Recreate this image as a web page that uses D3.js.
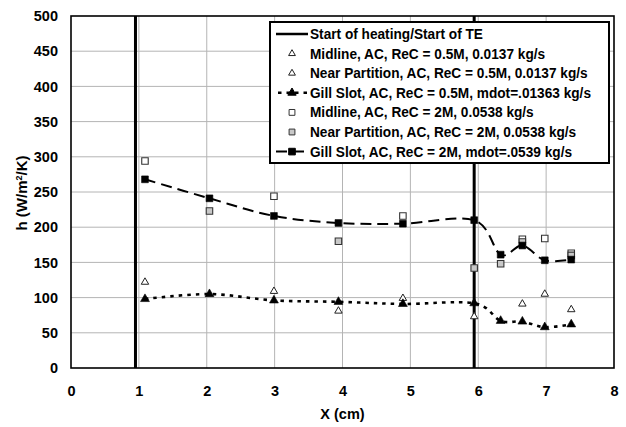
<!DOCTYPE html>
<html>
<head>
<meta charset="utf-8">
<script src="https://cdn.jsdelivr.net/npm/d3@7"></script>
<style>
  html, body { margin: 0; padding: 0; background: #fff; }
  svg { display: block; }
  text { font-family: "Liberation Sans", Arial, sans-serif; font-weight: bold; fill: #000; }
</style>
</head>
<body>
<svg id="chart" width="626" height="427"></svg>
<script>
// Axis positions (cm) of the measurement stations
const xGill = [1.09, 2.04, 2.99, 3.94, 4.89, 5.94, 6.33, 6.65, 6.98, 7.37];
const xMid = [1.09, 2.99, 4.89, 6.65, 6.98, 7.37];
const xNear05 = [3.94, 5.94];
const xNear2M = [2.04, 3.94, 5.94, 6.33, 6.65, 7.37];

// Heat transfer coefficient h (W/m^2/K)
const gill05 = [98, 105, 96, 94, 91, 92, 67, 66, 58, 62];
const mid05 = [122, 109, 99, 91, 105, 83];
const near05 = [81, 73];
const gill2M = [268, 241, 216, 206, 205, 210, 161, 174, 153, 154];
const mid2M = [294, 244, 216, 183, 184, 163];
const near2M = [223, 180, 142, 148, 179, 160];

// Start of heating / start of trailing edge
const heatingLines = [0.95, 5.94];

const xTicks = [0, 1, 2, 3, 4, 5, 6, 7, 8];
const yTicks = [0, 50, 100, 150, 200, 250, 300, 350, 400, 450, 500];

const legendLabels = [
  "Start of heating/Start of TE",
  "Midline, AC, ReC = 0.5M, 0.0137 kg/s",
  "Near Partition, AC, ReC = 0.5M, 0.0137 kg/s",
  "Gill Slot, AC, ReC = 0.5M, mdot=.01363 kg/s",
  "Midline, AC, ReC = 2M, 0.0538 kg/s",
  "Near Partition, AC, ReC = 2M, 0.0538 kg/s",
  "Gill Slot, AC, ReC = 2M, mdot=.0539 kg/s"
];

const svg = d3.select("#chart");
const plot = { left: 71, top: 16, right: 614, bottom: 368 };

const x = d3.scaleLinear().domain([0, 8]).range([plot.left, plot.right]);
const y = d3.scaleLinear().domain([0, 500]).range([plot.bottom, plot.top]);

// gridlines
const grid = svg.append("g");
grid.selectAll("line.h").data(yTicks.slice(1, -1)).join("line")
  .attr("x1", plot.left).attr("x2", plot.right)
  .attr("y1", d => y(d)).attr("y2", d => y(d))
  .attr("stroke", "#b4b4b4").attr("stroke-width", 1);
grid.selectAll("line.v").data(xTicks.slice(1, -1)).join("line")
  .attr("y1", plot.top).attr("y2", plot.bottom)
  .attr("x1", d => x(d)).attr("x2", d => x(d))
  .attr("stroke", "#b4b4b4").attr("stroke-width", 1);

// axes (labels only; frame drawn below)
const xAxis = svg.append("g").attr("transform", `translate(0,${plot.bottom})`)
  .call(d3.axisBottom(x).tickValues(xTicks).tickFormat(d3.format("d")).tickSize(0).tickPadding(18));
const yAxis = svg.append("g").attr("transform", `translate(${plot.left},0)`)
  .call(d3.axisLeft(y).tickValues(yTicks).tickFormat(d3.format("d")).tickSize(0).tickPadding(13));
[xAxis, yAxis].forEach(a => {
  a.select(".domain").remove();
  a.selectAll("text").style("font-size", "14.5px").style("font-weight", "bold")
    .style("font-family", "'Liberation Sans', Arial, sans-serif");
});

// frame
svg.append("rect")
  .attr("x", plot.left).attr("y", plot.top)
  .attr("width", plot.right - plot.left).attr("height", plot.bottom - plot.top)
  .attr("fill", "none").attr("stroke", "#000").attr("stroke-width", 1.6);

// heating start lines
svg.selectAll("line.heat").data(heatingLines).join("line")
  .attr("x1", d => x(d)).attr("x2", d => x(d))
  .attr("y1", plot.top).attr("y2", plot.bottom)
  .attr("stroke", "#000").attr("stroke-width", 3);

const curve = d3.curveCatmullRom.alpha(0);
const line = d3.line().x(d => x(d[0])).y(d => y(d[1])).curve(curve);
const zip = (xs, ys) => xs.map((v, i) => [v, ys[i]]);

const sym = (type, size) => d3.symbol().type(type).size(size);

function markers(data, type, size, fill, stroke, sw) {
  svg.append("g").selectAll("path").data(data).join("path")
    .attr("transform", d => `translate(${x(d[0])},${y(d[1])})`)
    .attr("d", sym(type, size))
    .attr("fill", fill).attr("stroke", stroke).attr("stroke-width", sw);
}

// series lines
svg.append("path").datum(zip(xGill, gill05)).attr("d", line)
  .attr("fill", "none").attr("stroke", "#000").attr("stroke-width", 2.6)
  .attr("stroke-dasharray", "3.5,5");
svg.append("path").datum(zip(xGill, gill2M)).attr("d", line)
  .attr("fill", "none").attr("stroke", "#000").attr("stroke-width", 2)
  .attr("stroke-dasharray", "11,6");

// open markers
markers(zip(xMid, mid05), d3.symbolTriangle, 24, "#fff", "#222", 1);
markers(zip(xNear05, near05), d3.symbolTriangle, 24, "#fff", "#222", 1);
markers(zip(xMid, mid2M), d3.symbolSquare, 42, "#fff", "#333", 1.1);
markers(zip(xNear2M, near2M), d3.symbolSquare, 42, "#c8c8c8", "#333", 1.1);

// filled markers
markers(zip(xGill, gill05), d3.symbolTriangle, 34, "#000", "#000", 0.6);
markers(zip(xGill, gill2M), d3.symbolSquare, 46, "#000", "#000", 0.6);

// axis titles
svg.append("text").attr("x", x(4)).attr("y", 419)
  .attr("text-anchor", "middle").style("font-size", "14.5px").text("X (cm)");
const yt = svg.append("text")
  .attr("transform", `translate(27,193) rotate(-90)`)
  .attr("text-anchor", "middle").style("font-size", "15px");
yt.append("tspan").text("h (W/m");
yt.append("tspan").attr("dy", -5).style("font-size", "9px").text("2");
yt.append("tspan").attr("dy", 5).text("/K)");

// legend
const lg = svg.append("g");
lg.append("rect").attr("x", 270).attr("y", 22).attr("width", 339).attr("height", 141)
  .attr("fill", "#fff").attr("stroke", "#000").attr("stroke-width", 2);
const rowY = i => 34 + i * 19.6;
const sx0 = 276, sx1 = 308, smid = 292;
const lt = lg.selectAll("text").data(legendLabels).join("text")
  .attr("x", 310).attr("y", (d, i) => rowY(i)).attr("dy", "0.35em")
  .style("font-size", "14.5px").text(d => d);
// slightly condensed legend type: longest entry spans 281px
const widths = lt.nodes().map(n => n.getComputedTextLength());
const squeeze = 281 / d3.max(widths);
lt.each(function (d, i) {
  d3.select(this).attr("textLength", widths[i] * squeeze).attr("lengthAdjust", "spacingAndGlyphs");
});
// sample: heating line
lg.append("line").attr("x1", sx0).attr("x2", sx1).attr("y1", rowY(0)).attr("y2", rowY(0))
  .attr("stroke", "#000").attr("stroke-width", 2.5);
// sample: 0.5M gill dotted line
lg.append("line").attr("x1", sx0).attr("x2", sx1).attr("y1", rowY(3)).attr("y2", rowY(3))
  .attr("stroke", "#000").attr("stroke-width", 2.4).attr("stroke-dasharray", "3.5,5")
  .attr("stroke-dashoffset", -2);
// sample: 2M gill dashed line
lg.append("line").attr("x1", sx0).attr("x2", sx1).attr("y1", rowY(6)).attr("y2", rowY(6))
  .attr("stroke", "#000").attr("stroke-width", 2).attr("stroke-dasharray", "11,6");
const legendSym = [
  [1, d3.symbolTriangle, 20, "#fff", "#222"],
  [2, d3.symbolTriangle, 20, "#fff", "#222"],
  [3, d3.symbolTriangle, 30, "#000", "#000"],
  [4, d3.symbolSquare, 34, "#fff", "#333"],
  [5, d3.symbolSquare, 34, "#c8c8c8", "#333"],
  [6, d3.symbolSquare, 44, "#000", "#000"]
];
legendSym.forEach(([i, t, s, f, st]) => {
  lg.append("path").attr("transform", `translate(${smid},${rowY(i)})`)
    .attr("d", sym(t, s)).attr("fill", f).attr("stroke", st).attr("stroke-width", 1);
});
</script>
</body>
</html>
